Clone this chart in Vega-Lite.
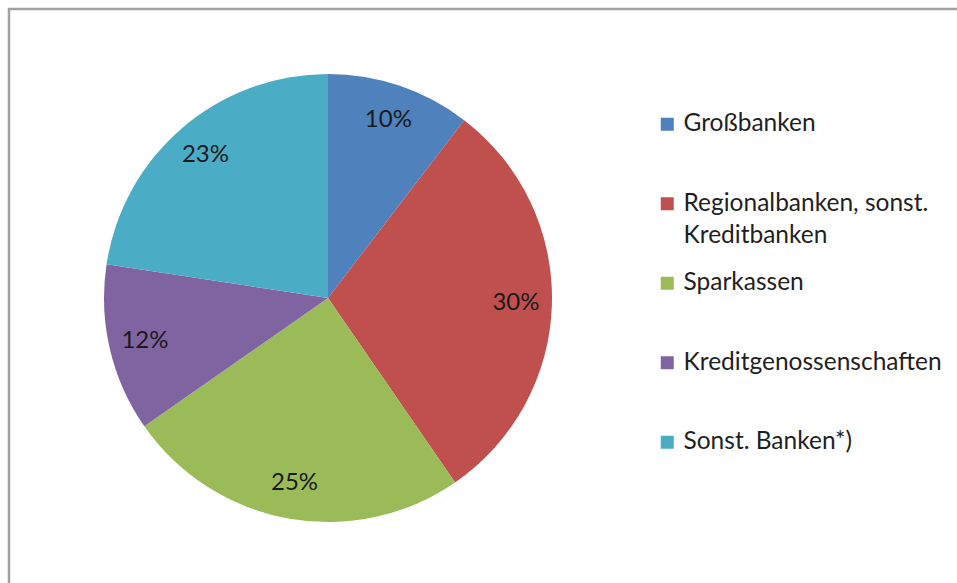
{
  "$schema": "https://vega.github.io/schema/vega-lite/v6.json",
  "width": 948,
  "height": 574,
  "autosize": {"type": "none"},
  "padding": {"left": 9, "top": 9, "right": 0, "bottom": 0},
  "background": "white",
  "config": {
    "view": {"stroke": "#a0a0a0", "strokeWidth": 2.5, "strokeDash": [948, 1522, 574]},
    "font": "Lato",
    "style": {"guide-label": {"lineHeight": 32}}
  },
  "data": {
    "values": [
      {"Bankengruppe": "Großbanken", "Anteil": 0.104, "Nr": 1},
      {"Bankengruppe": "Regionalbanken, sonst. Kreditbanken", "Anteil": 0.300, "Nr": 2},
      {"Bankengruppe": "Sparkassen", "Anteil": 0.249, "Nr": 3},
      {"Bankengruppe": "Kreditgenossenschaften", "Anteil": 0.121, "Nr": 4},
      {"Bankengruppe": "Sonst. Banken*)", "Anteil": 0.226, "Nr": 5}
    ]
  },
  "encoding": {
    "theta": {"field": "Anteil", "type": "quantitative", "stack": true},
    "order": {"field": "Nr", "type": "quantitative"},
    "x": {"datum": "Kreis", "type": "nominal", "scale": {"type": "point", "padding": 0, "align": 0.3365}, "axis": null},
    "y": {"datum": "Kreis", "type": "nominal", "scale": {"type": "point", "padding": 0, "align": 0.5035}, "axis": null}
  },
  "layer": [
    {
      "mark": {"type": "arc", "outerRadius": 224},
      "encoding": {
        "color": {
          "field": "Bankengruppe",
          "type": "nominal",
          "scale": {
            "domain": ["Großbanken", "Regionalbanken, sonst. Kreditbanken", "Sparkassen", "Kreditgenossenschaften", "Sonst. Banken*)"],
            "range": ["#4F81BD", "#C0504D", "#9BBB59", "#8064A2", "#4BACC6"]
          },
          "legend": {
            "orient": "none",
            "legendX": 646,
            "legendY": 103,
            "title": null,
            "symbolType": "square",
            "symbolSize": 169,
            "symbolStrokeWidth": 0,
            "labelFont": "Lato",
            "labelFontSize": 24.5,
            "labelColor": "#1f1f1f",
            "labelOffset": 4,
            "labelLimit": 400,
            "rowPadding": 22.5,
            "padding": 0,
            "labelExpr": "datum.label == 'Regionalbanken, sonst. Kreditbanken' ? ['Regionalbanken, sonst.', 'Kreditbanken'] : [datum.label, '']"
          }
        }
      }
    },
    {
      "mark": {"type": "text", "radius": 188, "font": "Lato", "fontSize": 24, "color": "#1a1a1a"},
      "encoding": {
        "text": {"field": "Anteil", "type": "quantitative", "format": ".0%"}
      }
    }
  ]
}
